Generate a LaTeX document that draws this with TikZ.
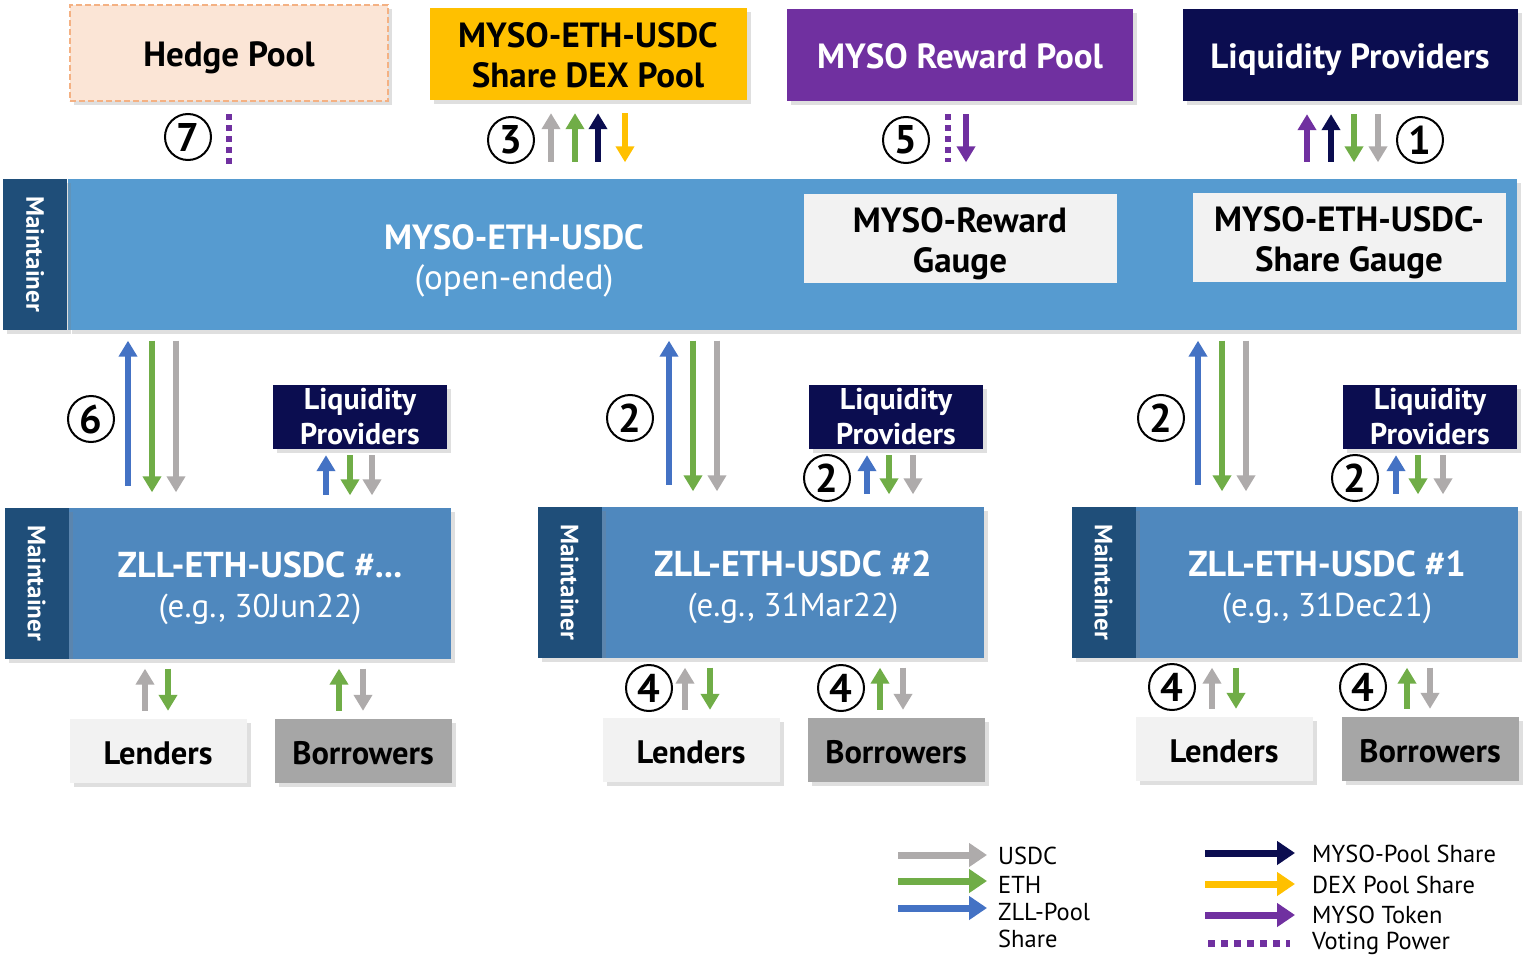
\documentclass[tikz,border=0pt]{standalone}
\usepackage{fontspec}
\setmainfont{PT Sans}
\usetikzlibrary{positioning,arrows.meta,shadows}

\definecolor{hedgefill}{HTML}{FBE5D6}
\definecolor{hedgeline}{HTML}{F4B183}
\definecolor{dexfill}{HTML}{FFC000}
\definecolor{myso}{HTML}{7030A0}
\definecolor{navy}{HTML}{0B0D50}
\definecolor{mainfill}{HTML}{569BD0}
\definecolor{zllfill}{HTML}{4F88BE}
\definecolor{stripfill}{HTML}{1F4E79}
\definecolor{gaugefill}{HTML}{F2F2F2}
\definecolor{lendfill}{HTML}{F2F2F2}
\definecolor{borrfill}{HTML}{A6A6A6}
\definecolor{usdccol}{HTML}{AEABAB}
\definecolor{ethcol}{HTML}{70AD47}
\definecolor{zllcol}{HTML}{4472C4}

% struts so that the capitals sit in the middle of the boxes
\newcommand{\upstrut}{\rule{0pt}{1.05em}}
\newcommand{\dnstrut}{\rule[-0.25em]{0pt}{0pt}}

\begin{document}
\begin{tikzpicture}[x=1pt, y=-1pt,
    >={Triangle[width=18pt,length=16pt]},
    shade box/.style={drop shadow={shadow xshift=4pt,shadow yshift=-4pt,opacity=0.25}},
    topbox/.style={shade box, inner sep=0pt, minimum height=92pt, align=center, font=\fontsize{35}{40}\selectfont\bfseries},
    gauge/.style={fill=gaugefill, inner sep=0pt, minimum width=313pt, minimum height=89pt, align=center, font=\fontsize{35}{40}\selectfont\bfseries},
    pool/.style={shade box, fill=zllfill, text=white, inner sep=0pt, minimum width=382pt, minimum height=151pt, align=center, font=\fontsize{33}{40}\selectfont},
    strip/.style={shade box, fill=stripfill, text=white, inner sep=0pt, rotate=-90, minimum width=151pt, minimum height=64pt, font=\fontsize{25}{25}\selectfont\bfseries},
    lpbox/.style={shade box, fill=navy, text=white, inner sep=0pt, minimum width=174pt, minimum height=64pt, align=center, font=\fontsize{30}{35}\selectfont\bfseries},
    party/.style={shade box, inner sep=0pt, minimum width=177pt, minimum height=64pt, font=\fontsize{32.5}{35}\selectfont\bfseries},
    num/.style={draw, circle, line width=2pt, minimum size=46pt, inner sep=0pt, font=\fontsize{40}{40}\selectfont\bfseries},
    usdc/.style={draw=usdccol, line width=6pt},
    eth/.style={draw=ethcol, line width=6pt},
    zlls/.style={draw=zllcol, line width=6pt},
    mysoshare/.style={draw=navy, line width=6pt},
    dexshare/.style={draw=dexfill, line width=6pt},
    token/.style={draw=myso, line width=6pt},
    vote/.style={draw=myso, line width=6pt, dash pattern=on 6pt off 5pt},
    top/.style={shorten <=13pt, shorten >=16pt},
    leg/.style={line width=7pt, -{Triangle[width=23pt,length=18pt]}},
    legtxt/.style={anchor=west, inner sep=0pt, align=left, font=\fontsize{24.5}{27}\selectfont}
  ]
  \useasboundingbox (0,0) rectangle (1531,971);

  % top row
  \node[topbox, fill=hedgefill, draw=hedgeline, line width=2.5pt, dash pattern=on 6pt off 3pt, minimum width=318pt, minimum height=96pt] (hedge) at (229,53) {\upstrut Hedge Pool\dnstrut};
  \node[topbox, fill=dexfill, minimum width=317pt] (dex) at (588,54) {\upstrut MYSO-ETH-USDC\\Share DEX Pool\dnstrut};
  \node[topbox, fill=myso, text=white, minimum width=346pt] (reward) at (960,55) {\upstrut MYSO Reward Pool\dnstrut};
  \node[topbox, fill=navy, text=white, minimum width=335pt] (lptop) at (1350,55) {\upstrut Liquidity Providers\dnstrut};

  % open-ended pool
  \node[shade box, fill=mainfill, inner sep=0pt, minimum width=1449pt, minimum height=151pt] (main) at (792,254) {};
  \node[strip, anchor=north] (smain) at (main.west) {Maintainer};
  \node[align=center, text=white, inner sep=0pt, font=\fontsize{35}{40}\selectfont] (mainlbl) at (514,255) {\upstrut\textbf{MYSO-ETH-USDC}\\(open-ended)\dnstrut};
  \node[gauge] (rgauge) at (960,238) {\upstrut MYSO-Reward\\Gauge\dnstrut};
  \node[gauge] (sgauge) at (1349,237) {\upstrut MYSO-ETH-USDC-\\Share Gauge\dnstrut};

  % zero-liquidation pools
  \node[pool] (zC) at (260,583) {{\fontsize{36}{40}\selectfont\bfseries\upstrut ZLL-ETH-USDC \#...}\\(e.g., 30Jun22)\dnstrut};
  \node[pool] (zB) at (793,582) {{\fontsize{36}{40}\selectfont\bfseries\upstrut ZLL-ETH-USDC \#2}\\(e.g., 31Mar22)\dnstrut};
  \node[pool] (zA) at (1327,582) {{\fontsize{36}{40}\selectfont\bfseries\upstrut ZLL-ETH-USDC \#1}\\(e.g., 31Dec21)\dnstrut};
  \node[strip, anchor=north] (sC) at (zC.west) {Maintainer};
  \node[strip, anchor=north] (sB) at (zB.west) {Maintainer};
  \node[strip, anchor=north] (sA) at (zA.west) {Maintainer};

  \node[lpbox] (lpC) at (360,417) {Liquidity\\Providers};
  \node[lpbox] (lpB) at (896,417) {Liquidity\\Providers};
  \node[lpbox] (lpA) at (1430,417) {Liquidity\\Providers};

  \node[party, fill=lendfill] (lenC) at (158,751) {\upstrut Lenders\dnstrut};
  \node[party, fill=lendfill] (lenB) at (691,750) {\upstrut Lenders\dnstrut};
  \node[party, fill=lendfill] (lenA) at (1224,749) {\upstrut Lenders\dnstrut};
  \node[party, fill=borrfill] (borC) at (363,751) {\upstrut Borrowers\dnstrut};
  \node[party, fill=borrfill] (borB) at (896,750) {\upstrut Borrowers\dnstrut};
  \node[party, fill=borrfill] (borA) at (1430,749) {\upstrut Borrowers\dnstrut};

  % flows on top
  \draw[vote, shorten <=12pt, shorten >=14pt] (hedge.south -| 229,0) -- (main.north -| 229,0);
  \draw[usdc, <-, top] (dex.south -| 551,0) -- (main.north -| 551,0);
  \draw[eth, <-, top] (dex.south -| 575,0) -- (main.north -| 575,0);
  \draw[mysoshare, <-, top] (dex.south -| 598,0) -- (main.north -| 598,0);
  \draw[dexshare, ->, top] (dex.south -| 625,0) -- (main.north -| 625,0);
  \draw[vote, top] (reward.south -| 948,0) -- (main.north -| 948,0);
  \draw[token, ->, top] (reward.south -| 966,0) -- (main.north -| 966,0);
  \draw[token, <-, top] (lptop.south -| 1307,0) -- (main.north -| 1307,0);
  \draw[mysoshare, <-, top] (lptop.south -| 1331,0) -- (main.north -| 1331,0);
  \draw[eth, ->, top] (lptop.south -| 1354,0) -- (main.north -| 1354,0);
  \draw[usdc, ->, top] (lptop.south -| 1378,0) -- (main.north -| 1378,0);

  % flows between open-ended pool and ZLL pools
  \foreach \x/\z in {128/zC, 669/zB, 1198/zA}
    \draw[zlls, <-, shorten <=11pt, shorten >=21pt] (main.south -| \x,0) -- (\z.north -| \x,0);
  \foreach \x/\z in {152/zC, 693/zB, 1222/zA}
    \draw[eth, ->, shorten <=11pt, shorten >=15pt] (main.south -| \x,0) -- (\z.north -| \x,0);
  \foreach \x/\z in {176/zC, 717/zB, 1246/zA}
    \draw[usdc, ->, shorten <=11pt, shorten >=15pt] (main.south -| \x,0) -- (\z.north -| \x,0);

  % liquidity providers
  \foreach \x/\p/\z in {326/lpC/zC, 867/lpB/zB, 1396/lpA/zA}
    \draw[zlls, <-, shorten <=6pt, shorten >=12pt] (\p.south -| \x,0) -- (\z.north -| \x,0);
  \foreach \x/\p/\z in {350/lpC/zC, 889/lpB/zB, 1418/lpA/zA}
    \draw[eth, ->, shorten <=6pt, shorten >=12pt] (\p.south -| \x,0) -- (\z.north -| \x,0);
  \foreach \x/\p/\z in {372/lpC/zC, 913/lpB/zB, 1443/lpA/zA}
    \draw[usdc, ->, shorten <=6pt, shorten >=12pt] (\p.south -| \x,0) -- (\z.north -| \x,0);

  % lenders and borrowers
  \foreach \x/\z/\l in {145/zC/lenC, 685/zB/lenB, 1212/zA/lenA}
    \draw[usdc, <-, shorten <=10pt, shorten >=8pt] (\z.south -| \x,0) -- (\l.north -| \x,0);
  \foreach \x/\z/\l in {168/zC/lenC, 710/zB/lenB, 1236/zA/lenA}
    \draw[eth, ->, shorten <=10pt, shorten >=8pt] (\z.south -| \x,0) -- (\l.north -| \x,0);
  \foreach \x/\z/\b in {339/zC/borC, 880/zB/borB, 1407/zA/borA}
    \draw[eth, <-, shorten <=10pt, shorten >=8pt] (\z.south -| \x,0) -- (\b.north -| \x,0);
  \foreach \x/\z/\b in {363/zC/borC, 903/zB/borB, 1430/zA/borA}
    \draw[usdc, ->, shorten <=10pt, shorten >=8pt] (\z.south -| \x,0) -- (\b.north -| \x,0);

  % step numbers
  \node[num] (n7) at (188,137) {7};
  \node[num] (n3) at (511,140) {3};
  \node[num] (n5) at (906,140) {5};
  \node[num] (n1) at (1420,140) {1};
  \node[num] (n6) at (91,419) {6};
  \node[num] (n2b) at (630,418) {2};
  \node[num] (n2a) at (1161,418) {2};
  \node[num] (n2lb) at (827,478) {2};
  \node[num] (n2la) at (1355,478) {2};
  \node[num] (n4lb) at (649,688) {4};
  \node[num] (n4bb) at (841,688) {4};
  \node[num] (n4la) at (1172,687) {4};
  \node[num] (n4ba) at (1363,687) {4};

  % legend
  \node[legtxt] (lU) at (998,856) {USDC};
  \node[legtxt] (lE) at (998,885) {ETH};
  \node[legtxt] (lZ) at (998,925) {ZLL-Pool\\Share};
  \node[legtxt] (lP) at (1312,854) {MYSO-Pool Share};
  \node[legtxt] (lD) at (1312,885) {DEX Pool Share};
  \node[legtxt] (lT) at (1312,915) {MYSO Token};
  \node[legtxt] (lV) at (1312,943) {Voting Power};
  \coordinate (kU) at (898,855);
  \coordinate (kE) at (898,881);
  \coordinate (kZ) at (898,908);
  \coordinate (kP) at (1205,853);
  \coordinate (kD) at (1205,884);
  \coordinate (kT) at (1205,915);
  \coordinate (kV) at (1208,943);
  \draw[usdc, leg, shorten >=11pt] (kU) -- (kU -| lU.west);
  \draw[eth, leg, shorten >=11pt] (kE) -- (kE -| lE.west);
  \draw[zlls, leg, shorten >=11pt] (kZ) -- (kZ -| lZ.west);
  \draw[mysoshare, leg, shorten >=17pt] (kP) -- (kP -| lP.west);
  \draw[dexshare, leg, shorten >=17pt] (kD) -- (kD -| lD.west);
  \draw[token, leg, shorten >=17pt] (kT) -- (kT -| lT.west);
  \draw[vote, line width=7pt, dash pattern=on 7pt off 6pt, shorten >=22pt] (kV) -- (kV -| lV.west);
\end{tikzpicture}
\end{document}
